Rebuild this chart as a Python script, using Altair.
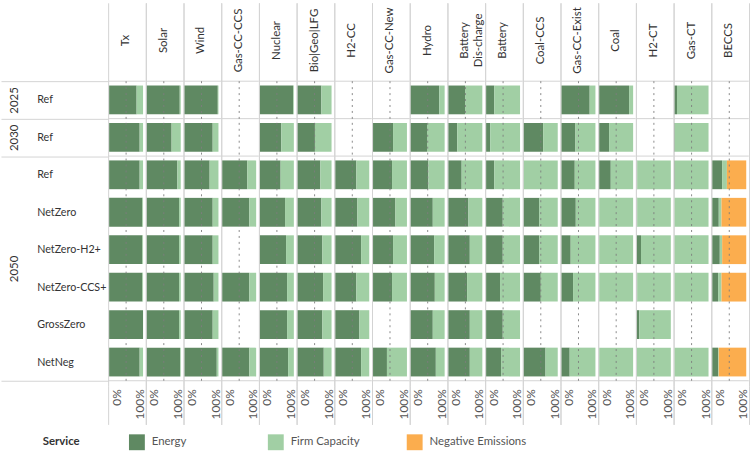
import altair as alt
import pandas as pd

FONT = "Lato"
TEXT = "#333333"
SUBTLE = "#555555"
LINE = "#d3d3d3"

# Technologies (one column each), in display order
techs = ["Tx", "Solar", "Wind", "Gas-CC-CCS", "Nuclear", "Bio|Geo|LFG", "H2-CC",
         "Gas-CC-New", "Hydro", "Battery Dis-charge", "Battery", "Coal-CCS",
         "Gas-CC-Exist", "Coal", "H2-CT", "Gas-CT", "BECCS"]
tech_labels = ["Tx", "Solar", "Wind", "Gas-CC-CCS", "Nuclear", "Bio|Geo|LFG", "H2-CC",
               "Gas-CC-New", "Hydro", "Battery\nDis-charge", "Battery", "Coal-CCS",
               "Gas-CC-Exist", "Coal", "H2-CT", "Gas-CT", "BECCS"]

# Rows: year group and scenario
row_year = ["2025", "2030", "2050", "2050", "2050", "2050", "2050", "2050"]
row_scenario = ["Ref", "Ref", "Ref", "NetZero", "NetZero-H2+", "NetZero-CCS+",
                "GrossZero", "NetNeg"]

services = ["Energy", "Firm Capacity", "Negative Emissions"]
service_colors = ["#5f8962", "#a1cfa4", "#fbad4e"]

# Share of value by service (%), one entry per row; None = technology absent
energy = {
    "Tx":                 [81, 90, 90, 98, 98, 98, 100, 90],
    "Solar":              [97, 73, 90, 95, 95, 95, 95, 98],
    "Wind":               [98, 83, 74, 83, 83, 86, 83, 95],
    "Gas-CC-CCS":         [None, None, 74, 80, None, 80, None, 80],
    "Nuclear":            [98, 63, 61, 74, 77, 80, 80, 83],
    "Bio|Geo|LFG":        [70, 51, 67, 70, 73, 75, 73, 77],
    "H2-CC":              [None, None, 62, 65, 76, 62, 71, 76],
    "Gas-CC-New":         [None, 59, 56, 66, 59, 56, None, 41],
    "Hydro":              [84, 48, 52, 65, 69, 71, 65, 74],
    "Battery Dis-charge": [49, 26, 39, 59, 63, 55, 63, 63],
    "Battery":            [24, 12, 24, 49, 49, 41, 49, 44],
    "Coal-CCS":           [None, 57, 0, 45, 45, 50, None, 64],
    "Gas-CC-Exist":       [83, 41, 39, 42, 27, 34, None, 24],
    "Coal":               [88, 29, 34, 0, 0, 0, None, 0],
    "H2-CT":              [None, None, 1, 1, 12, 1, 7, 0],
    "Gas-CT":             [7, 1, 1, 0, 0, 0, None, 0],
    "BECCS":              [None, None, 29, 19, 22, 17, None, 17],
}
firm = {
    "Tx":                 [19, 10, 10, 2, 2, 2, 0, 10],
    "Solar":              [3, 27, 10, 5, 5, 5, 5, 2],
    "Wind":               [2, 17, 26, 17, 17, 14, 17, 5],
    "Gas-CC-CCS":         [None, None, 26, 20, None, 20, None, 20],
    "Nuclear":            [2, 37, 39, 26, 23, 20, 20, 17],
    "Bio|Geo|LFG":        [30, 49, 33, 30, 27, 25, 27, 23],
    "H2-CC":              [None, None, 38, 35, 24, 38, 29, 24],
    "Gas-CC-New":         [None, 41, 44, 34, 41, 44, None, 59],
    "Hydro":              [16, 52, 48, 35, 31, 29, 35, 26],
    "Battery Dis-charge": [51, 74, 61, 41, 37, 45, 37, 37],
    "Battery":            [76, 88, 76, 51, 51, 59, 51, 56],
    "Coal-CCS":           [None, 43, 100, 55, 55, 50, None, 36],
    "Gas-CC-Exist":       [17, 59, 61, 58, 73, 66, None, 76],
    "Coal":               [12, 71, 66, 100, 100, 100, None, 100],
    "H2-CT":              [None, None, 99, 99, 88, 99, 93, 100],
    "Gas-CT":             [93, 99, 99, 100, 100, 100, None, 100],
    "BECCS":              [None, None, 14, 8, 7, 10, None, 2],
}
negative = {
    "BECCS":              [None, None, 57, 73, 71, 73, None, 81],
}

# ---- layout constants -------------------------------------------------------
CELL_W = (750 - 108) / 17
LEFT_W = 108
HDR_H = 76
STEP = 38.75
N_ROWS = len(row_scenario)
CELL_H = HDR_H + STEP * N_ROWS
BAR_SIZE = 29
X_DOMAIN = [-3, 107.5]          # small gutter either side of the 0-100 % bar
POS_DOMAIN = [-HDR_H / STEP, N_ROWS]   # row units; header band sits above row 0

# year-group boundaries and centres, in row units
bounds = [0]
for i in range(1, N_ROWS):
    if row_year[i] != row_year[i - 1]:
        bounds.append(i)
bounds.append(N_ROWS)
centres = {(a + b) / 2: row_year[a] for a, b in zip(bounds[:-1], bounds[1:])}
row_centres = [i + 0.5 for i in range(N_ROWS)]

# ---- one long table, one 'kind' per layer ------------------------------------
records = []
for tech, label in zip(techs, tech_labels):
    records.append({"kind": "head", "Tech": tech, "Label": label})
    records.append({"kind": "mid", "Tech": tech, "Top": 0, "Bottom": N_ROWS})
    for b in bounds:
        records.append({"kind": "sep", "Tech": tech, "Pos": b})
    for i in range(N_ROWS):
        for k, (svc, table) in enumerate(zip(services, [energy, firm, negative])):
            vals = table.get(tech)
            if vals is None or vals[i] is None:
                continue
            records.append({"kind": "bar", "Tech": tech, "Row": row_centres[i],
                            "Service": svc, "Ord": k, "Share": vals[i]})
data = pd.DataFrame(records)

# legend coordinates are measured from the first column's left edge
legend = alt.Legend(
    title="Service", orient="none", legendX=42 - LEFT_W, legendY=435,
    direction="horizontal", columns=3, gridAlign="all", columnPadding=19,
    titleOrient="left", titleFontWeight="bold", titleFontSize=11.5,
    titleColor=TEXT, titleFont=FONT, titlePadding=49, titleBaseline="middle",
    labelFont=FONT, labelFontSize=11.5, labelColor=SUBTLE, labelOffset=7,
    symbolType="square", symbolSize=256, symbolStrokeWidth=0, symbolOpacity=1,
)

x_axis = alt.Axis(
    values=X_DOMAIN,
    labelExpr="datum.value < 0 ? '0%' : '100%'",
    labelAngle=270, labelFont=FONT, labelFontSize=12, labelColor=SUBTLE,
    labelOverlap=False, labelFlush=False, labelBound=False, labelBaseline="middle",
    labelOffset={"condition": {"test": "datum.value < 0", "value": 8}, "value": -6},
    labelPadding=-36,
    ticks=True, tickSize=39, tickColor=LINE,
    domain=False, grid=True, gridColor=LINE,
)

scen_js = "[" + ", ".join(f"'{s}'" for s in row_scenario) + "]"
scen_axis = alt.Axis(
    orient="left", values=row_centres,
    labelExpr=f"{scen_js}[floor(datum.value)]",
    labelAlign="left", labelBaseline="middle", labelPadding=LEFT_W - 36,
    labelFont=FONT, labelFontSize=10.8, labelColor=TEXT,
    labelOverlap=False, labelFlush=False, labelBound=False,
    ticks=False, domain=False, grid=False,
)

year_expr = " : ".join(f"datum.value === {c} ? '{y}'" for c, y in centres.items()) + " : ''"
year_axis = alt.Axis(
    orient="left", values=sorted(set(bounds) | set(centres)),
    labelExpr=year_expr, labelAngle=270, labelAlign="center", labelBaseline="middle",
    labelPadding=-14,
    labelFont=FONT, labelFontSize=11.5, labelColor=TEXT,
    labelOverlap=False, labelFlush=False, labelBound=False,
    ticks=True, tickSize=LEFT_W, tickColor=LINE,
    tickOpacity={"condition": {"test": f"indexof({bounds}, datum.value) >= 0", "value": 1},
                 "value": 0},
    domain=False, grid=False,
)

pos_scale = alt.Scale(domain=POS_DOMAIN, reverse=True, nice=False, zero=False)
base = alt.Chart()

# horizontal separators between year groups
seps = base.transform_filter(alt.datum.kind == "sep").mark_rule(
    color=LINE, strokeWidth=1
).encode(y=alt.Y("Pos:Q", scale=pos_scale, axis=year_axis, title=None))

# stacked 100 % bars
bars = base.transform_filter(alt.datum.kind == "bar").mark_bar(
    orient="horizontal", size=BAR_SIZE
).encode(
    x=alt.X("Share:Q", stack="zero", title=None,
            scale=alt.Scale(domain=X_DOMAIN, nice=False, zero=False), axis=x_axis),
    y=alt.Y("Row:Q", scale=pos_scale, axis=scen_axis, title=None),
    color=alt.Color("Service:N", scale=alt.Scale(domain=services, range=service_colors),
                    legend=legend),
    order=alt.Order("Ord:Q"),
)

# dotted 50 % guide
mid = base.transform_filter(alt.datum.kind == "mid").mark_rule(
    color="#7d7d7d", strokeDash=[2, 4], strokeWidth=1, opacity=0.9
).encode(
    x=alt.XDatum(50, type="quantitative"),
    y=alt.Y("Top:Q", scale=pos_scale, axis=None, title=None),
    y2="Bottom:Q",
)

# technology names above each column
head = base.transform_filter(alt.datum.kind == "head").mark_text(
    angle=270, align="center", baseline="middle", lineBreak="\n", lineHeight=14,
    font=FONT, fontSize=11.5, color=TEXT
).encode(
    x=alt.XDatum(50, type="quantitative"),
    y=alt.value(HDR_H / 2),
    text="Label:N",
)

cell = alt.layer(seps, bars, mid, head, data=data).resolve_axis(y="independent").properties(
    width=CELL_W, height=CELL_H
)

chart = cell.facet(
    column=alt.Column("Tech:N", sort=techs, header=None), spacing=0
).properties(
    bounds="flush", padding={"left": 0, "right": 0, "top": 0, "bottom": 0}
).configure(font=FONT).configure_view(stroke="transparent")

chart.save("out.html", embed_options={"renderer": "svg", "actions": False})
